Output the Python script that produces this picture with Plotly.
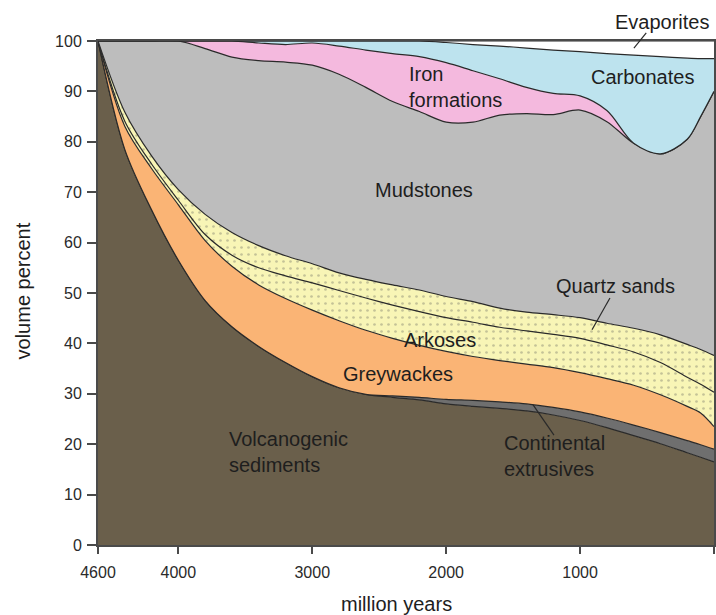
import plotly.graph_objects as go

# Age in million years (x axis, reversed)
years = [4600, 4400, 4200, 4000, 3800, 3600, 3400, 3200, 3000, 2800, 2600, 2400, 2200,
         2000, 1800, 1600, 1400, 1200, 1000, 800, 600, 400, 200, 100, 0]

# Volume percent of each sediment type (stacked bottom -> top)
volcanogenic = [100, 78.5, 66.5, 56.5, 48.5, 43.3, 39.4, 36.2, 33.4, 31.2, 29.9, 29.3, 28.8,
                28.0, 27.5, 27.1, 26.6, 25.8, 24.7, 23.3, 21.7, 20.1, 18.3, 17.4, 16.5]
continental = [0, 0, 0, 0, 0, 0, 0, 0, 0, 0, 0, 0.3, 0.5,
               0.9, 1.2, 1.3, 1.4, 1.5, 1.7, 1.9, 2.1, 2.2, 2.4, 2.5, 2.5]
greywackes = [0, 4.6, 8.2, 11.0, 11.9, 12.0, 12.2, 12.7, 13.2, 13.3, 12.7, 11.4, 10.3,
              9.5, 8.7, 8.2, 7.9, 7.9, 7.8, 7.8, 7.9, 7.5, 6.8, 6.3, 4.5]
arkoses = [0, 1.0, 0.9, 0.9, 1.2, 2.2, 3.4, 4.5, 5.4, 6.0, 6.4, 6.6, 6.7,
           6.7, 6.8, 6.6, 6.6, 6.6, 6.8, 6.7, 6.6, 6.4, 5.8, 5.7, 6.8]
quartz_sands = [0, 1.8, 1.6, 2.1, 4.0, 4.5, 4.4, 4.0, 3.8, 3.5, 3.7, 4.0, 4.3,
                4.2, 4.1, 3.8, 3.7, 3.9, 4.1, 4.3, 4.7, 5.5, 6.5, 6.9, 7.3]
mudstones = [0, 14.1, 22.8, 29.5, 32.9, 34.8, 36.7, 38.4, 39.4, 39.4, 38.1, 36.4, 35.4,
             34.6, 35.6, 38.3, 39.4, 39.7, 41.2, 40.0, 36.7, 35.9, 40.7, 46.2, 52.4]
iron_formations = [0, 0, 0, 0, 1.5, 3.2, 3.5, 3.5, 4.4, 5.6, 7.4, 9.5, 10.9,
                   11.8, 10.2, 7.2, 5.2, 4.2, 2.8, 2.2, 0, 0, 0, 0, 0]
carbonates = [0, 0, 0, 0, 0, 0, 0.4, 0.7, 0.4, 1.0, 1.8, 2.5, 3.1,
              4.0, 5.2, 6.5, 7.8, 8.6, 8.8, 11.3, 17.5, 19.3, 16.1, 11.5, 6.5]
evaporites = [0, 0, 0, 0, 0, 0, 0, 0, 0, 0, 0, 0, 0,
              0.3, 0.7, 1.0, 1.4, 1.8, 2.1, 2.5, 2.8, 3.1, 3.4, 3.5, 3.5]

x_ticks = [4600, 4000, 3000, 2000, 1000, 0]

FONT = "Liberation Sans, Arial, sans-serif"
LINE = "#2a2a2a"

layers = [
    ("Volcanogenic sediments", volcanogenic, "#6a5f4b", None),
    ("Continental extrusives", continental, "#6f6f6f", None),
    ("Greywackes", greywackes, "#fab475", None),
    ("Arkoses", arkoses, "#f8f5b6", "dots"),
    ("Quartz sands", quartz_sands, "#f8f5b6", "dots"),
    ("Mudstones", mudstones, "#bdbdbd", None),
    ("Iron formations", iron_formations, "#f4b9de", None),
    ("Carbonates", carbonates, "#bde3ee", None),
    ("Evaporites", evaporites, "#ffffff", None),
]

fig = go.Figure()
for name, vals, color, pat in layers:
    kw = {}
    if pat == "dots":
        kw["fillpattern"] = dict(shape=".", fgcolor="#8f8f78", bgcolor=color,
                                 size=7, solidity=0.12)
    fig.add_trace(go.Scatter(
        x=years, y=vals, name=name, mode="lines",
        stackgroup="one",
        line=dict(color=LINE, width=1.2, shape="spline", smoothing=0.9),
        fillcolor=color, hoverinfo="skip", showlegend=False, **kw))

def lab(text, x, y, xanchor="center", align="center"):
    return dict(x=x, y=y, xref="x", yref="y", text=text, showarrow=False,
                xanchor=xanchor, yanchor="middle", align=align, borderpad=0,
                font=dict(family=FONT, size=20, color="#1e1e1e"))

annotations = [
    dict(x=0.917, y=1.038, xref="paper", yref="paper", text="Evaporites",
         showarrow=False, xanchor="center", yanchor="middle",
         font=dict(family=FONT, size=20, color="#1e1e1e")),
    lab("Carbonates", 537, 92.9),
    lab("Iron<br>formations", 2285, 90.9, "left", "left"),
    lab("Mudstones", 2166, 70.4),
    lab("Quartz sands", 732, 51.4),
    lab("Arkoses", 2046, 40.7),
    lab("Greywackes", 2360, 33.9),
    lab("Volcanogenic<br>sediments", 3629, 18.4, "left", "left"),
    lab("Continental<br>extrusives", 1575, 17.6, "left", "left"),
    dict(x=0.484, y=-0.117, xref="paper", yref="paper", text="million years",
         showarrow=False, xanchor="center", yanchor="middle",
         font=dict(family=FONT, size=20, color="#1e1e1e")),
    dict(x=-0.121, y=0.504, xref="paper", yref="paper", text="volume percent",
         showarrow=False, xanchor="center", yanchor="middle", textangle=-90,
         font=dict(family=FONT, size=20, color="#1e1e1e")),
]

shapes = [
    dict(type="line", xref="paper", yref="paper", x0=0.890, y0=1.016, x1=0.870, y1=0.986,
         line=dict(color=LINE, width=1.2)),
    dict(type="line", xref="x", yref="y", x0=777, y0=49.0, x1=911, y1=42.7,
         line=dict(color=LINE, width=1.2)),
    dict(type="line", xref="x", yref="y", x0=1351, y0=27.8, x1=1195, y1=21.8,
         line=dict(color=LINE, width=1.2)),
]

axis_common = dict(showgrid=False, zeroline=False, showline=True, mirror=True,
                   linecolor="#4a4a4a", linewidth=2, ticks="outside",
                   tickcolor="#4a4a4a", tickwidth=1.5, automargin=False,
                   tickfont=dict(family=FONT, size=16, color="#2a2a2a"))

fig.update_layout(
    width=716, height=615,
    margin=dict(l=98, r=2, t=41, b=70),
    paper_bgcolor="white", plot_bgcolor="white",
    xaxis=dict(range=[4600, 0], tickvals=x_ticks, ticklen=7,
               ticklabelstandoff=5, **axis_common),
    yaxis=dict(range=[0, 100], dtick=10, ticklen=9, ticklabelstandoff=2,
               **axis_common),
    annotations=annotations, shapes=shapes, showlegend=False,
)

fig.write_html("out.html", config={"displayModeBar": False},
               post_script="document.body.style.margin='0';")
